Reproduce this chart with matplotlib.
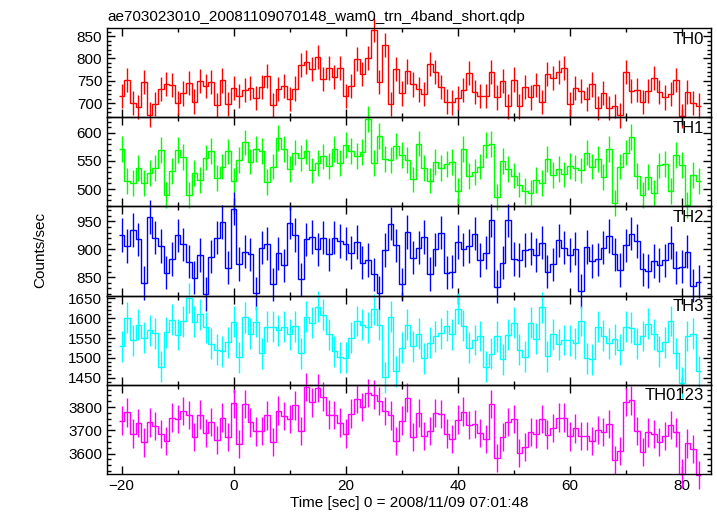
import numpy as np
import matplotlib.pyplot as plt
from matplotlib.ticker import MultipleLocator

plt.rcParams['font.family'] = ['Liberation Sans', 'DejaVu Sans']

# bin centres, 1 s bins
time = np.arange(-20, 84)

th0 = [716, 752, 700, 692, 748, 675, 698, 732, 743, 740,
       700, 722, 745, 704, 749, 738, 748, 697, 751, 698,
       734, 717, 729, 734, 712, 736, 761, 697, 732, 738,
       710, 733, 786, 793, 776, 804, 754, 779, 758, 779,
       716, 738, 799, 766, 801, 864, 747, 830, 698, 776,
       722, 771, 742, 731, 721, 788, 770, 736, 704, 702,
       712, 730, 767, 725, 716, 716, 770, 713, 749, 693,
       753, 693, 736, 713, 740, 703, 765, 757, 769, 779,
       698, 735, 727, 710, 742, 690, 723, 689, 694, 673,
       769, 727, 730, 703, 727, 756, 726, 713, 721, 752,
       671, 726, 701, 695]

th1 = [571, 514, 511, 538, 511, 529, 537, 569, 490, 532,
       569, 557, 490, 529, 516, 556, 568, 519, 540, 567,
       515, 552, 583, 549, 572, 568, 513, 540, 591, 572,
       535, 565, 555, 567, 533, 547, 558, 541, 572, 546,
       578, 568, 559, 566, 625, 546, 594, 553, 551, 577,
       560, 552, 517, 581, 537, 515, 548, 538, 544, 548,
       497, 572, 523, 530, 540, 578, 580, 486, 550, 535,
       524, 508, 497, 493, 516, 511, 553, 525, 536, 526,
       541, 538, 533, 565, 540, 554, 521, 572, 475, 540,
       565, 593, 523, 489, 522, 493, 542, 544, 497, 560,
       543, 472, 525, 514]

th2 = [926, 906, 935, 918, 840, 958, 921, 906, 858, 883,
       925, 909, 878, 849, 890, 820, 887, 921, 949, 867,
       973, 874, 896, 891, 821, 903, 910, 837, 893, 871,
       948, 926, 846, 918, 922, 900, 921, 891, 921, 915,
       910, 894, 913, 876, 881, 855, 822, 899, 946, 907,
       837, 931, 885, 903, 922, 856, 900, 930, 858, 860,
       913, 900, 906, 928, 881, 894, 952, 833, 876, 952,
       883, 881, 899, 901, 890, 912, 860, 873, 916, 903,
       890, 901, 825, 904, 879, 882, 903, 924, 891, 863,
       907, 928, 915, 864, 861, 879, 872, 880, 912, 867,
       869, 896, 835, 842]

th3 = [1529, 1601, 1544, 1584, 1551, 1569, 1562, 1478, 1564, 1596,
       1558, 1592, 1651, 1591, 1610, 1577, 1536, 1521, 1516, 1539,
       1591, 1501, 1602, 1561, 1591, 1512, 1579, 1579, 1569, 1579,
       1559, 1580, 1512, 1604, 1589, 1629, 1609, 1559, 1517, 1501,
       1500, 1551, 1593, 1583, 1577, 1622, 1584, 1451, 1604, 1466,
       1526, 1583, 1529, 1561, 1499, 1538, 1554, 1562, 1581, 1560,
       1624, 1581, 1526, 1545, 1555, 1477, 1510, 1554, 1496, 1558,
       1589, 1521, 1503, 1588, 1548, 1627, 1504, 1560, 1534, 1545,
       1544, 1537, 1593, 1499, 1496, 1579, 1556, 1537, 1547, 1521,
       1579, 1576, 1536, 1555, 1586, 1559, 1516, 1539, 1593, 1512,
       1437, 1555, 1561, 1466]

th0123 = [3742, 3777, 3686, 3731, 3648, 3734, 3720, 3685, 3653, 3755,
          3750, 3782, 3765, 3672, 3768, 3689, 3736, 3658, 3755, 3670,
          3816, 3642, 3812, 3734, 3695, 3698, 3764, 3650, 3785, 3761,
          3750, 3807, 3698, 3886, 3820, 3883, 3845, 3768, 3765, 3733,
          3686, 3772, 3836, 3800, 3860, 3854, 3826, 3782, 3764, 3654,
          3742, 3841, 3670, 3775, 3677, 3698, 3774, 3769, 3686, 3663,
          3746, 3781, 3724, 3728, 3689, 3663, 3813, 3581, 3672, 3736,
          3749, 3603, 3629, 3692, 3686, 3750, 3682, 3711, 3755, 3755,
          3674, 3708, 3677, 3677, 3654, 3702, 3692, 3726, 3572, 3612,
          3823, 3829, 3698, 3607, 3691, 3683, 3650, 3677, 3724, 3691,
          3514, 3644, 3620, 3508]

# error bar half widths
errors = [27, 23, 30, 39, 61]
names = ['TH0', 'TH1', 'TH2', 'TH3', 'TH0123']
colors = ['#ff0000', '#00ff00', '#0000ff', '#00ffff', '#ff00ff']
ylims = [(669, 868), (469, 628), (817, 977), (1432, 1657), (3512, 3896)]
ymajor = [50, 50, 50, 50, 100]
yminor = [10, 10, 10, 10, 25]

fig, axes = plt.subplots(5, 1, sharex=True, figsize=(7.17, 5.16), dpi=100)
fig.subplots_adjust(left=107/717, right=711/717, top=1-28/516, bottom=1-474/516, hspace=0)

edges = np.append(time - 0.5, time[-1] + 0.5)
series = [th0, th1, th2, th3, th0123]
for i, ax in enumerate(axes):
    ax.set_facecolor('none')
    ax.stairs(series[i], edges, color=colors[i], lw=1, baseline=None, clip_on=False)
    eb = ax.errorbar(time, series[i], yerr=errors[i], fmt='none', ecolor=colors[i], elinewidth=1)
    for c in eb.lines[2]:
        c.set_clip_on(False)
    ax.set_ylim(ylims[i])
    ax.yaxis.set_major_locator(MultipleLocator(ymajor[i]))
    ax.yaxis.set_minor_locator(MultipleLocator(yminor[i]))
    ax.xaxis.set_major_locator(MultipleLocator(20))
    ax.xaxis.set_minor_locator(MultipleLocator(10))
    ax.tick_params(which='both', direction='in', top=True, right=True, labelsize=11, width=1)
    ax.tick_params(which='major', length=6)
    ax.tick_params(which='minor', length=3)
    for s in ax.spines.values():
        s.set_linewidth(1.0)
    ax.text(0.988, 0.96, names[i], transform=ax.transAxes, ha='right', va='top', fontsize=12)

axes[0].set_xlim(-22.6, 85.2)
axes[0].set_title('ae703023010_20081109070148_wam0_trn_4band_short.qdp', loc='left', fontsize=11, pad=5)
axes[-1].set_xlabel('Time [sec] 0 = 2008/11/09 07:01:48', fontsize=11, labelpad=2)
fig.text(40/717, 1-250/516, 'Counts/sec', rotation=90, ha='center', va='center', fontsize=11)

plt.savefig('out.png', dpi=100)
